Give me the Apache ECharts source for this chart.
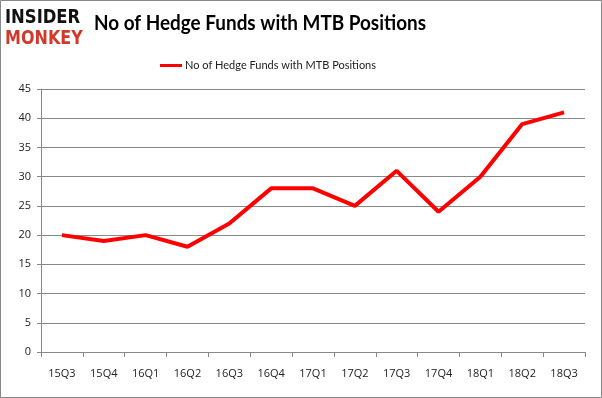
<!DOCTYPE html>
<html>
<head>
<meta charset="utf-8">
<script src="https://cdn.jsdelivr.net/npm/echarts@6/dist/echarts.min.js"></script>
<style>
  html, body { margin: 0; padding: 0; background: #fff; }
  #chart { width: 602px; height: 398px; }
</style>
</head>
<body>
<div id="chart"></div>
<script>
const categories = ["15Q3", "15Q4", "16Q1", "16Q2", "16Q3", "16Q4", "17Q1", "17Q2", "17Q3", "17Q4", "18Q1", "18Q2", "18Q3"];
const hedgeFunds = [20, 19, 20, 18, 22, 28, 28, 25, 31, 24, 30, 39, 41];
const seriesName = "No of Hedge Funds with MTB Positions";
const chartTitle = "No of Hedge Funds with MTB Positions";

const chart = echarts.init(document.getElementById("chart"));

chart.setOption({
  animation: false,
  backgroundColor: "#fff",
  legend: {
    top: 55,
    left: 155,
    itemWidth: 22,
    itemHeight: 3,
    itemGap: 4,
    icon: "rect",
    textStyle: { fontFamily: "Lato", fontSize: 11, color: "#222", padding: [0, 0, 0, -2] },
    data: [seriesName]
  },
  graphic: [
    {
      type: "rect",
      shape: { x: 0.5, y: 0.5, width: 601, height: 397 },
      style: { fill: "none", stroke: "#888", lineWidth: 1 }
    },
    {
      type: "text",
      x: 5,
      y: 8,
      scaleX: 0.82,
      style: { text: "INSIDER", fontFamily: "DejaVu Sans", fontWeight: 900, fontSize: 20, fill: "#111" }
    },
    {
      type: "text",
      x: 5,
      y: 29,
      scaleX: 0.8,
      style: { text: "MONKEY", fontFamily: "DejaVu Sans", fontWeight: 900, fontSize: 20, fill: "#d03a2a" }
    },
    {
      type: "text",
      x: 94,
      y: 13,
      scaleX: 0.9,
      style: { text: chartTitle, fontFamily: "Lato", fontWeight: "bold", fontSize: 21, fill: "#000" }
    }
  ],
  grid: { left: 41, right: 17, top: 89, bottom: 46 },
  xAxis: {
    type: "category",
    data: categories,
    boundaryGap: true,
    axisLine: { lineStyle: { color: "#888" } },
    axisTick: { show: true, alignWithLabel: false, length: 5, lineStyle: { color: "#888" } },
    axisLabel: { margin: 16, fontFamily: "Open Sans", fontSize: 11, color: "#222" }
  },
  yAxis: {
    type: "value",
    min: 0,
    max: 45,
    interval: 5,
    axisLine: { show: true, lineStyle: { color: "#888" } },
    axisTick: { show: true, length: 4, inside: false, lineStyle: { color: "#888" } },
    axisLabel: { margin: 10, fontFamily: "Open Sans", fontSize: 11, color: "#222" },
    splitLine: { lineStyle: { color: "#888" } }
  },
  series: [
    {
      name: seriesName,
      type: "line",
      data: hedgeFunds,
      symbol: "none",
      lineStyle: { color: "#ff0000", width: 4 },
      itemStyle: { color: "#ff0000" }
    }
  ]
});
</script>
</body>
</html>
